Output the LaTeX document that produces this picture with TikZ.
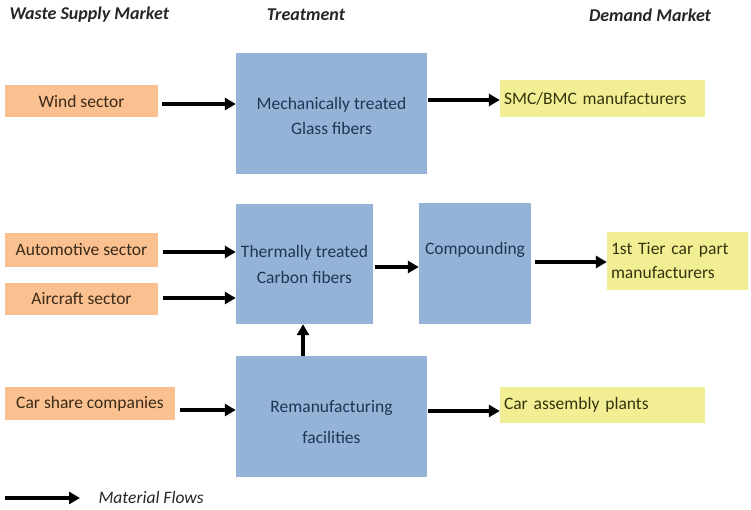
\documentclass[tikz,border=0pt]{standalone}
\usepackage{fontspec}
\setmainfont{Carlito}
\usepackage{xcolor}
\usepackage{tikz}
\usetikzlibrary{arrows.meta, positioning, calc}
\definecolor{supplyOrange}{HTML}{FAC090}
\definecolor{treatBlue}{HTML}{95B3D7}
\definecolor{demandYellow}{HTML}{F2EE94}
\definecolor{navyText}{HTML}{1F3556}
\definecolor{brownText}{HTML}{3A2A18}
\definecolor{oliveText}{HTML}{34340E}
\definecolor{headGray}{HTML}{262626}
\begin{document}
\begin{tikzpicture}[x=1pt, y=-1pt,
    source/.style={rectangle, fill=supplyOrange, minimum width=153pt, minimum height=32pt,
                   inner sep=2pt, align=center, font=\fontsize{17.5}{20}\selectfont, text=brownText},
    treat/.style={rectangle, fill=treatBlue, minimum height=121pt,
                  inner sep=2pt, align=center, font=\fontsize{17.5}{25}\selectfont, text=navyText},
    market/.style={rectangle, fill=demandYellow, minimum height=36pt, inner sep=4pt,
                   align=left, font=\fontsize{17.5}{24}\selectfont, text=oliveText},
    heading/.style={font=\fontsize{18}{20}\selectfont\bfseries\itshape, text=headGray},
    flow/.style={-{Triangle[length=11pt, width=12pt]}, line width=3.8pt, black},
]
\useasboundingbox (0,0) rectangle (751,509);
% column headings
\node[heading, anchor=west] (hsupply) at (6,15) {Waste Supply Market};
\node[heading] (htreat) at (306,15) {Treatment};
\node[heading] (hdemand) at (650,15) {Demand Market};
% supply side
\node[source] (wind) at (81.5,101) {Wind sector};
\node[source, minimum height=34pt] (auto) at (81.5,250) {Automotive sector};
\node[source] (air) at (81.5,299) {Aircraft sector};
\node[source, minimum width=170pt, minimum height=33pt] (carshare) at (90,403.5) {Car share companies};
% treatment
\node[treat, minimum width=191pt, text height=42pt] (mech) at (331.5,113.5) {Mechanically treated\\Glass fibers};
\node[treat, minimum width=137pt, minimum height=120pt] (therm) at (304.5,264) {Thermally treated\\[1pt]Carbon fibers};
\node[treat, minimum width=112pt, text depth=30pt] (comp) at (475,263.5) {Compounding};
\node[treat, minimum width=191pt, text height=55pt] (reman) at (331.5,416.5) {Remanufacturing\\[6pt]facilities};
% demand side
\node[market, minimum width=205pt, minimum height=37pt, text width=197pt] (smc) at (602.5,98.5) {SMC/BMC manufacturers};
\node[market, minimum width=141pt, minimum height=58pt, text width=133pt] (tier) at (677.5,261) {1st Tier car part\\manufacturers};
\node[market, minimum width=205pt, text width=197pt] (carasm) at (602.5,405) {Car assembly plants};
% flows
\draw[flow] ([xshift=4pt, yshift=-3pt]wind.east) -- ([yshift=-3pt]wind.east -| mech.west);
\draw[flow] ([xshift=1pt, yshift=13.5pt]mech.east) -- ([yshift=13.5pt]mech.east -| smc.west);
\draw[flow] ([xshift=5pt, yshift=-2pt]auto.east) -- ([yshift=-2pt]auto.east -| therm.west);
\draw[flow] ([xshift=5pt, yshift=1pt]air.east) -- ([yshift=1pt]air.east -| therm.west);
\draw[flow] ([xshift=2pt, yshift=-3pt]therm.east) -- ([yshift=-3pt]therm.east -| comp.west);
\draw[flow] ([xshift=4pt, yshift=1.5pt]comp.east) -- ([yshift=1.5pt]comp.east -| tier.west);
\draw[flow] ([xshift=-1.5pt]reman.north -| therm.south) -- ([xshift=-1.5pt]therm.south);
\draw[flow] ([xshift=5pt, yshift=-6.5pt]carshare.east) -- ([yshift=-6.5pt]carshare.east -| reman.west);
\draw[flow] ([xshift=1pt, yshift=5.5pt]reman.east) -- ([yshift=5.5pt]reman.east -| carasm.west);
% legend
\coordinate (legstart) at (5,498);
\coordinate (legend) at (80,498);
\draw[flow] (legstart) -- (legend);
\node[font=\fontsize{17.5}{20}\selectfont\itshape, text=headGray, anchor=west] (legtext) at (95,497) {Material Flows};
\end{tikzpicture}
\end{document}
